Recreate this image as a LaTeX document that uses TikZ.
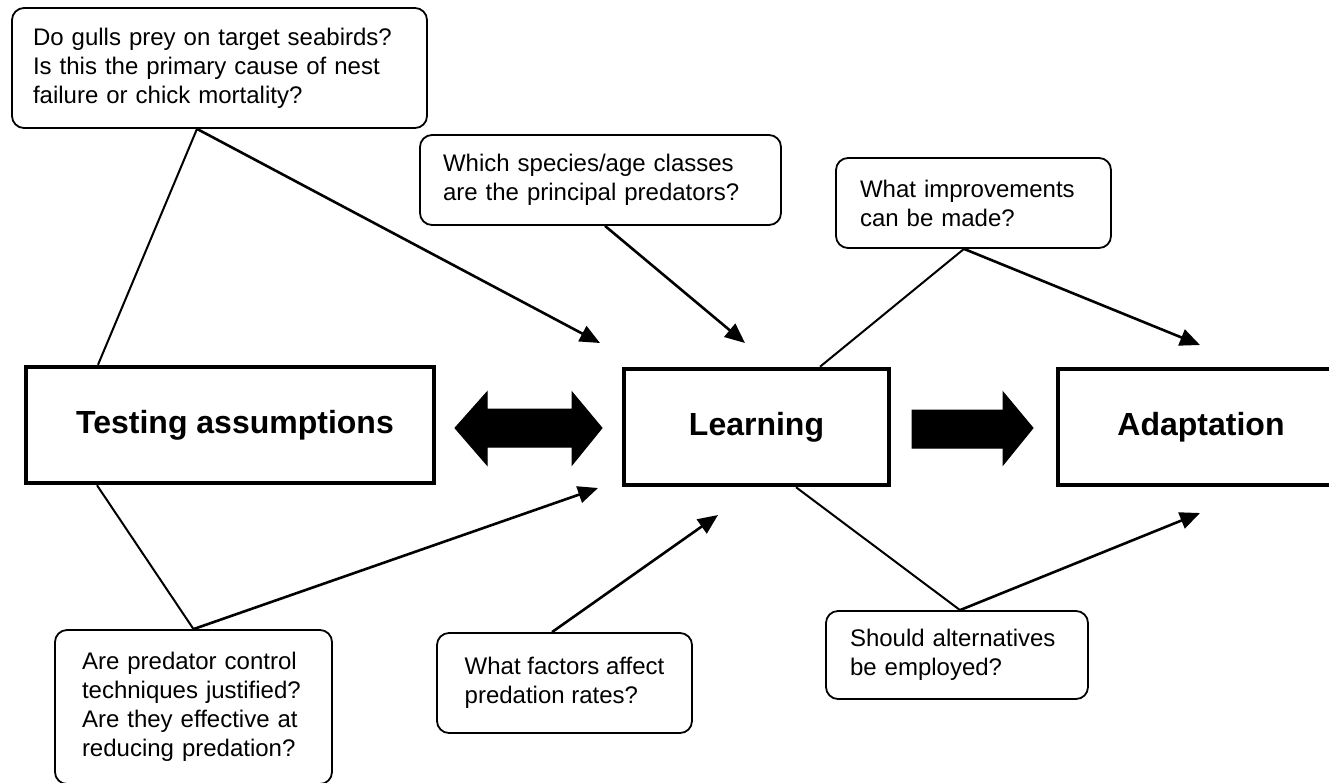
\documentclass[tikz,border=0pt]{standalone}
\usepackage{fontspec}
\setmainfont{Liberation Sans}
\usetikzlibrary{arrows.meta,calc}
\begin{document}
\begin{tikzpicture}[x=1pt,y=-1pt,
  qbox/.style={draw, line width=1.8pt, rounded corners=12pt, align=left,
    font=\fontsize{24}{29}\selectfont, inner ysep=0pt},
  mainbox/.style={draw, line width=4.5pt, font=\bfseries\fontsize{32}{38}\selectfont,
    inner sep=0pt},
  link/.style={line width=2pt},
  arr/.style={line width=2.6pt, -{Triangle[length=20pt,width=17pt]}},
  blockarrow/.style={fill=black, draw=black, line width=1pt, line join=miter}
]
\useasboundingbox (0,0) rectangle (1329,782);

% main boxes
\node[mainbox, minimum width=408pt, minimum height=116pt] (test) at (230,425) {\hspace*{10pt}Testing assumptions};
\node[mainbox, minimum width=265pt, minimum height=116pt] (learn) at (756.5,427) {Learning};
\node[mainbox, minimum width=286pt, minimum height=116pt] (adapt) at (1201,427) {Adaptation};

% question boxes
\node[qbox, minimum height=120pt, inner xsep=21pt, text width=373pt] (q1) at (219.5,68)
  {Do gulls prey on target seabirds?\\Is this the primary cause of nest\\failure or chick mortality?};
\node[qbox, minimum height=90pt, inner xsep=23pt, text width=315pt] (q2) at (600.5,180)
  {Which species/age classes\\are the principal predators?};
\node[qbox, minimum height=90pt, inner xsep=24pt, text width=227pt] (q3) at (973.5,203)
  {What improvements\\can be made?};
\node[qbox, minimum height=154pt, inner xsep=27pt, text width=223pt] (q4) at (193.5,707)
  {Are predator control\\techniques justified?\\Are they effective at\\reducing predation?};
\node[qbox, minimum height=100pt, minimum width=255pt] (q5) at (564.5,683)
  {What factors affect\\predation rates?};
\node[qbox, minimum height=88pt, inner xsep=24pt, text width=214pt] (q6) at (957,655)
  {Should alternatives\\be employed?};

% arrow tip coordinates
\coordinate (t1) at (600,343);
\coordinate (t2) at (745,343);
\coordinate (t3) at (1200,345);
\coordinate (t4) at (598,488);
\coordinate (t5) at (718,515);
\coordinate (t6) at (1200,513);

% connectors
\draw[link] ([xshift=-22.5pt]q1.south) -- ([xshift=-132pt]test.north);
\draw[arr]  ([xshift=-22.5pt]q1.south) -- (t1);
\draw[arr]  ([xshift=4.5pt]q2.south) -- (t2);
\draw[link] ([xshift=-9.5pt]q3.south) -- ([xshift=63.5pt]learn.north);
\draw[arr]  ([xshift=-9.5pt]q3.south) -- (t3);
\draw[link] ([xshift=-133pt]test.south) -- (q4.north);
\draw[arr]  (q4.north) -- (t4);
\draw[arr]  ([xshift=-12.5pt]q5.north) -- (t5);
\draw[link] ([xshift=39.5pt]learn.south) -- ([xshift=3pt]q6.north);
\draw[arr]  ([xshift=3pt]q6.north) -- (t6);

% block arrows
\draw[blockarrow] (455,428) -- (487,392) -- (487,409) -- (572,409) -- (572,392) -- (602,428)
  -- (572,465) -- (572,447) -- (487,447) -- (487,465) -- cycle;
\draw[blockarrow] (912,410) -- (1003,410) -- (1003,392) -- (1033,428) -- (1003,465)
  -- (1003,448) -- (912,448) -- cycle;
\end{tikzpicture}
\end{document}
